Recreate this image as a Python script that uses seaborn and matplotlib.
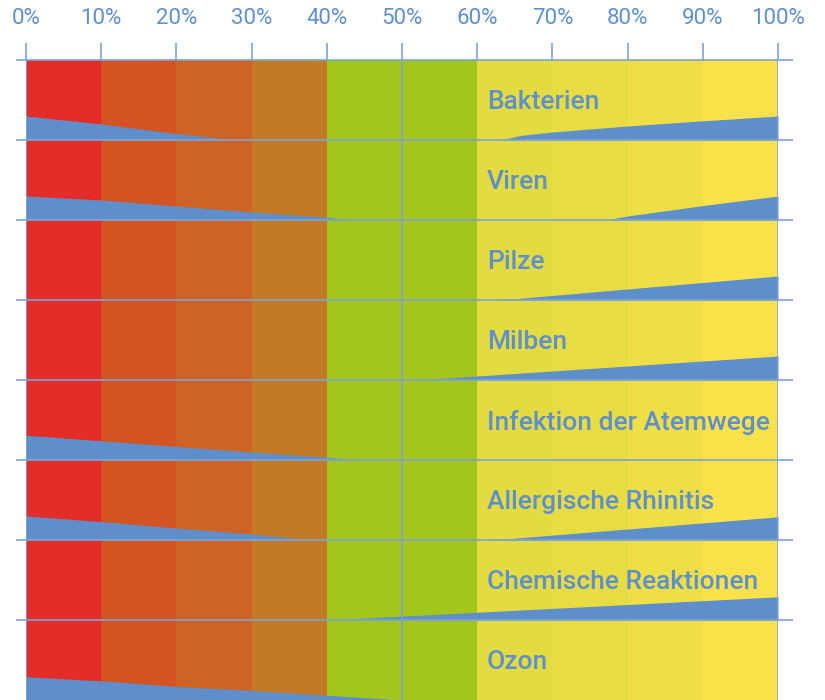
"""Optimaler Bereich der Luftfeuchtigkeit"""
import numpy as np
import matplotlib.pyplot as plt
import seaborn as sns

# Row labels (top to bottom)
categories = ["Bakterien", "Viren", "Pilze", "Milben", "Infektion der Atemwege",
              "Allergische Rhinitis", "Chemische Reaktionen", "Ozon"]

# Background humidity bands (percent) and their colours
band_edges = [0, 10, 20, 30, 40, 50, 60, 70, 80, 90, 100]
band_colors = ["#E42D29", "#D45322", "#CD6425", "#C27B24", "#A3C61C",
               "#A3C61C", "#E2DB41", "#E7DD43", "#EFDF46", "#FCE24A"]

# Blue wedges: risk at low humidity (left) and high humidity (right),
# heights as fraction of row height
left_x = [[0, 10, 20, 28], [0, 10, 20, 30, 40, 43], [], [],
          [0, 10, 20, 30, 40, 44], [0, 10, 20, 30, 38], [],
          [0, 10, 20, 30, 40, 50]]
left_h = [[0.30, 0.20, 0.08, 0], [0.30, 0.25, 0.175, 0.10, 0.035, 0], [], [],
          [0.31, 0.24, 0.17, 0.10, 0.035, 0], [0.30, 0.23, 0.15, 0.075, 0], [],
          [0.29, 0.24, 0.17, 0.12, 0.06, 0]]
right_x = [[63, 66, 70, 80, 90, 100], [77, 80, 90, 100], [63, 100], [52, 100],
           [], [62, 100], [40, 100], []]
right_h = [[0, 0.06, 0.10, 0.175, 0.24, 0.30], [0, 0.05, 0.18, 0.30], [0, 0.30],
           [0, 0.30], [], [0, 0.29], [0, 0.29], []]

ticks = list(range(0, 101, 10))
tick_labels = [f"{t}%" for t in ticks]

BLUE = "#5E8FCA"
LINE = "#7EA2D6"
TEXT = "#5F90CC"

sns.set_theme(style="white")
plt.rcParams['font.family'] = ['Roboto', 'DejaVu Sans']

fig = plt.figure(figsize=(8.25, 7), dpi=100)
ax = fig.add_axes([26 / 825, 0, 752 / 825, 640 / 700])

n = len(categories)
ax.set_xlim(0, 100)
ax.set_ylim(n, 0)

# colour bands
for i, c in enumerate(band_colors):
    ax.axvspan(band_edges[i], band_edges[i + 1], color=c, lw=0, zorder=0)

# wedges
for i in range(n):
    base = i + 1
    if left_x[i]:
        ax.fill_between(left_x[i], base - np.array(left_h[i]), base,
                        color=BLUE, lw=0, zorder=2)
    if right_x[i]:
        ax.fill_between(right_x[i], base - np.array(right_h[i]), base,
                        color=BLUE, lw=0, zorder=2)
    ax.text(61.3, i + 0.53, categories[i], color=TEXT, fontsize=19,
            fontweight='medium', va='center', ha='left', zorder=3)

# row separators, reaching a little past the plot area
ax.hlines(range(n), -1.3, 102, color=LINE, lw=1.2, clip_on=False, zorder=4)
for xv in [0, 50, 100]:
    ax.axvline(xv, color=LINE, lw=1.2, zorder=4)

ax.xaxis.tick_top()
ax.set_xticks(ticks)
ax.set_xticklabels(tick_labels)
ax.tick_params(axis='x', top=True, bottom=False, length=12, width=1.2,
               color=LINE, labelcolor=TEXT, labelsize=16, pad=10)
ax.set_yticks([])
for s in ax.spines.values():
    s.set_visible(False)

plt.savefig("out.png", dpi=100)
